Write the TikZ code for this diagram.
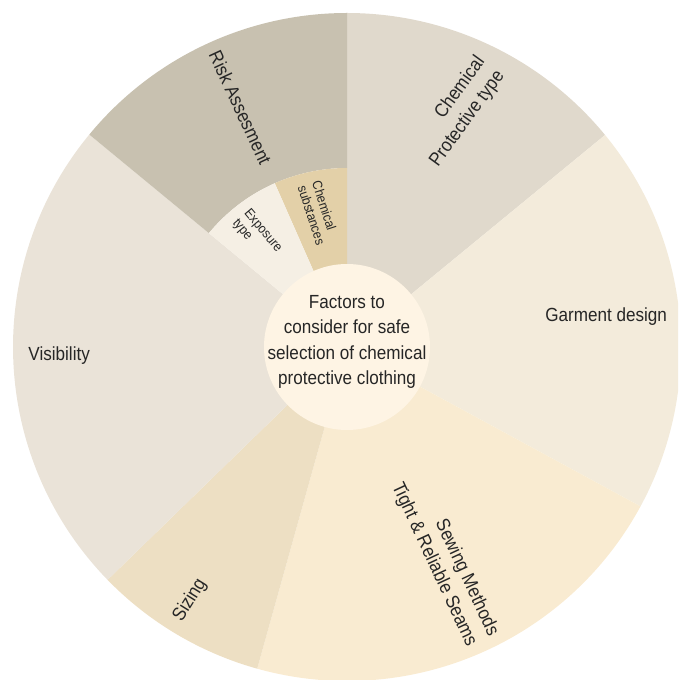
\documentclass[tikz,border=0pt]{standalone}
\usepackage{fontspec}
\setmainfont{Liberation Sans}[FakeStretch=0.9]
\definecolor{cptc}{HTML}{E0D9CC}
\definecolor{garc}{HTML}{F3EBDB}
\definecolor{sewc}{HTML}{F9EBD1}
\definecolor{sizc}{HTML}{EDDFC3}
\definecolor{visc}{HTML}{EAE3D8}
\definecolor{riskc}{HTML}{C8C1B0}
\definecolor{expc}{HTML}{F5EFE4}
\definecolor{subc}{HTML}{E3D0A8}
\definecolor{cenc}{HTML}{FEF4E4}
\definecolor{txtc}{HTML}{262626}
\newcommand{\mysector}[5]{%
  \fill[#5] (#1:#3) arc[start angle=#1,end angle=#2,radius=#3 pt] -- (#2:#4) arc[start angle=#2,end angle=#1,radius=#4 pt] -- cycle;}
\begin{document}
\begin{tikzpicture}[x=1pt,y=1pt,
  lbl/.style={text=txtc, font=\fontsize{19}{24}\selectfont, align=center, inner sep=0pt},
  slbl/.style={text=txtc, font=\fontsize{13.5}{15}\selectfont, align=left, inner sep=0pt}]
\useasboundingbox (0,0) rectangle (678,680);
\clip (0,0) rectangle (678,680);
\begin{scope}[shift={(347,333)}]
\mysector{39.4}{90}{334}{0.01}{cptc}
\mysector{-28.5}{39.4}{334}{0.01}{garc}
\mysector{-105.6}{-28.5}{334}{0.01}{sewc}
\mysector{-135.8}{-105.6}{334}{0.01}{sizc}
\mysector{140.5}{224.2}{334}{0.01}{visc}
\mysector{90}{140.5}{334}{179}{riskc}
\mysector{90}{113.8}{179}{0.01}{subc}
\mysector{113.8}{140.5}{179}{0.01}{expc}
\node[circle, fill=cenc, minimum size=166pt, inner sep=0pt] (hub) at (0,0) {};
\node[lbl, font=\fontsize{19}{25.5}\selectfont] (ctext) at (0,5) {Factors to\\consider for safe\\selection of chemical\\protective clothing};
\node[lbl, rotate=-65] (risk) at (114:262) {Risk Assesment};
\node[lbl, rotate=54, align=right] (cpt) at (64.8:260) {Chemical\\Protective type};
\node[lbl] (garment) at (6.8:261) {Garment design};
\node[lbl, rotate=-65, align=right] (sewing) at (-65.3:234) {Sewing Methods\\Tight \& Reliable Seams};
\node[lbl, rotate=58] (sizing) at (-121.8:298) {Sizing};
\node[lbl] (visibility) at (181.8:288) {Visibility};
\node[slbl, rotate=-50] (exposure) at (129:143) {Exposure\\type};
\node[slbl, rotate=-72] (chemsub) at (101.9:137) {Chemical\\substances};
\end{scope}
\end{tikzpicture}
\end{document}
